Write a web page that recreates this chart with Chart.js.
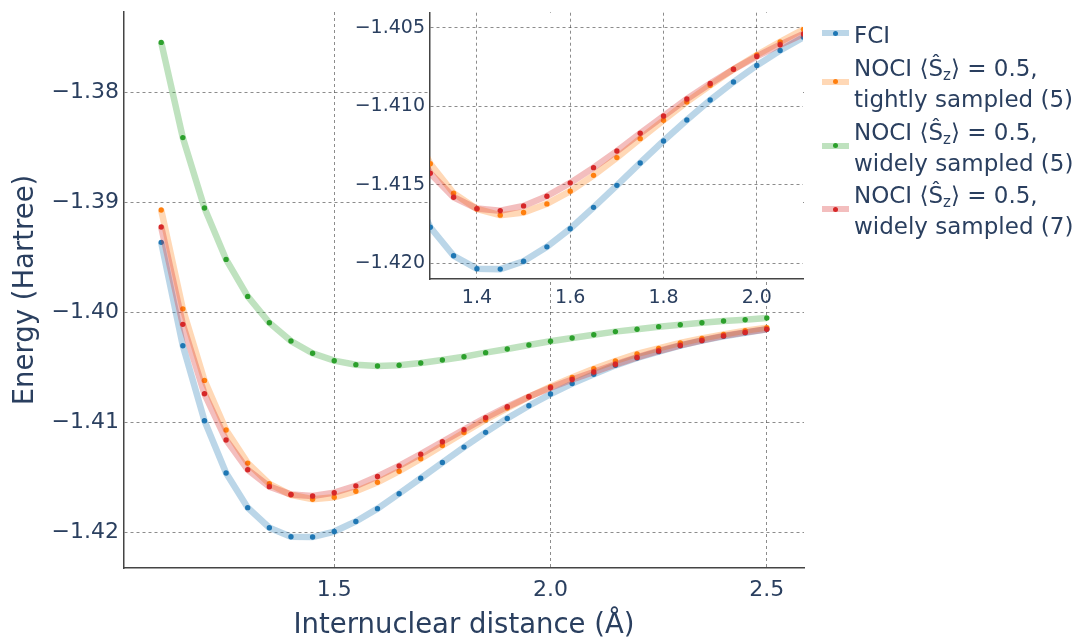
<!DOCTYPE html>
<html>
<head>
<meta charset="utf-8">
<script src="https://cdn.jsdelivr.net/npm/chart.js@4.4.1/dist/chart.umd.min.js"></script>
<style>
  body { margin: 0; background: #fff; }
  #wrap { position: relative; width: 1080px; height: 637px; font-family: 'DejaVu Sans', sans-serif; color: #2a3f5f; }
  #main { position: absolute; left: 0; top: 0; }
  #inset { position: absolute; left: 340px; top: 0; }
  .lg-sw { position: absolute; left: 822px; width: 27px; height: 6px; }
  .lg-dot { position: absolute; left: 11px; top: 0.5px; width: 5px; height: 5px; border-radius: 50%; }
  .lg-tx { position: absolute; left: 854px; font-size: 23px; line-height: 31px; white-space: nowrap; }
  .lg-tx sub { font-size: 15px; vertical-align: -4px; line-height: 0; }
</style>
</head>
<body>
<div id="wrap">
  <canvas id="main" width="1080" height="637"></canvas>
  <canvas id="inset" width="470" height="320"></canvas>
  <div id="legend"></div>
</div>
<script>
// ---- data ----
const distances = [1.10, 1.15, 1.20, 1.25, 1.30, 1.35, 1.40, 1.45, 1.50, 1.55,
                   1.60, 1.65, 1.70, 1.75, 1.80, 1.85, 1.90, 1.95, 2.00, 2.05,
                   2.10, 2.15, 2.20, 2.25, 2.30, 2.35, 2.40, 2.45, 2.50];

const fci = [-1.39362, -1.40301, -1.40982, -1.41457, -1.41772, -1.41954, -1.42036, -1.42039, -1.41989, -1.41897,
             -1.41781, -1.41645, -1.41505, -1.41362, -1.41222, -1.41088, -1.40961, -1.40846, -1.40740, -1.40645,
             -1.40560, -1.40479, -1.40412, -1.40355, -1.40301, -1.40255, -1.40216, -1.40183, -1.40152];

const tight5 = [-1.39068, -1.39966, -1.40616, -1.41066, -1.41367, -1.41555, -1.41655, -1.41695, -1.41678, -1.41623,
                -1.41542, -1.41441, -1.41328, -1.41207, -1.41090, -1.40973, -1.40867, -1.40765, -1.40674, -1.40590,
                -1.40510, -1.40440, -1.40376, -1.40325, -1.40276, -1.40234, -1.40198, -1.40164, -1.40137];

const wide5 = [-1.37546, -1.38411, -1.39050, -1.39517, -1.39853, -1.40092, -1.40258, -1.40370, -1.40437, -1.40473,
               -1.40485, -1.40479, -1.40458, -1.40431, -1.40401, -1.40364, -1.40331, -1.40295, -1.40261, -1.40231,
               -1.40201, -1.40173, -1.40152, -1.40128, -1.40110, -1.40092, -1.40077, -1.40065, -1.40049];

const wide7 = [-1.39223, -1.40107, -1.40737, -1.41157, -1.41428, -1.41581, -1.41653, -1.41666, -1.41636, -1.41574,
               -1.41489, -1.41392, -1.41286, -1.41173, -1.41063, -1.40954, -1.40855, -1.40765, -1.40683, -1.40608,
               -1.40540, -1.40470, -1.40407, -1.40349, -1.40298, -1.40253, -1.40212, -1.40180, -1.40152];

const seriesNames = ['FCI',
  'NOCI ⟨Ŝ<sub>z</sub>⟩ = 0.5,<br>tightly sampled (5)',
  'NOCI ⟨Ŝ<sub>z</sub>⟩ = 0.5,<br>widely sampled (5)',
  'NOCI ⟨Ŝ<sub>z</sub>⟩ = 0.5,<br>widely sampled (7)'];
const seriesRGB = ['31,119,180', '255,127,14', '44,160,44', '214,39,40'];

const mainXTicks = [1.5, 2.0, 2.5];
const mainYTicks = [-1.42, -1.41, -1.40, -1.39, -1.38];
const insetXTicks = [1.4, 1.6, 1.8, 2.0];
const insetYTicks = [-1.420, -1.415, -1.410, -1.405];

// ---- helpers ----
const textColor = '#2a3f5f';
const gridColor = 'rgba(0,0,0,0.45)';
Chart.defaults.font.family = "'DejaVu Sans', sans-serif";
Chart.defaults.color = textColor;

const allSeries = [fci, tight5, wide5, wide7];
const fmt = (v, dec) => (v < 0 ? '\u2212' : '') + Math.abs(v).toFixed(dec);

function makeSet(i, clip) {
  return {
    label: seriesNames[i],
    data: distances.map((x, k) => ({ x: x, y: allSeries[i][k] })),
    borderColor: 'rgba(' + seriesRGB[i] + ',0.3)',
    borderWidth: 6.5,
    pointRadius: 2.7,
    pointBorderWidth: 0,
    pointBackgroundColor: 'rgb(' + seriesRGB[i] + ')',
    tension: 0,
    order: 3 - i,
    clip: clip
  };
}

function axis(opts) {
  return {
    type: 'linear', min: opts.min, max: opts.max,
    afterBuildTicks: s => { s.ticks = opts.ticks.map(v => ({ value: v })); },
    afterFit: s => {
      if (opts.width) s.width = opts.width;
      if (opts.height) s.height = opts.height;
      s.paddingTop = 0; s.paddingBottom = 0; s.paddingLeft = 0; s.paddingRight = 0;
    },
    ticks: { font: { size: opts.font }, color: textColor, padding: opts.pad, maxRotation: 0, autoSkip: false,
             callback: v => fmt(Number(v), opts.dec) },
    grid: { color: gridColor, lineWidth: 1, drawTicks: false },
    border: { display: true, color: '#444', width: 1.5, dash: [3, 3] },
    title: opts.title || { display: false }
  };
}

// main axes
new Chart(document.getElementById('main'), {
  type: 'line',
  data: { datasets: [0, 1, 2, 3].map(i => makeSet(i)) },
  options: {
    responsive: false, animation: false, events: [],
    layout: { padding: { left: 0, right: 276, top: 12, bottom: 0 } },
    plugins: { legend: { display: false }, tooltip: { enabled: false } },
    scales: {
      x: axis({ min: 1.014, max: 2.586, ticks: mainXTicks, height: 69, font: 22, pad: 9, dec: 1,
        title: { display: true, text: 'Internuclear distance (Å)', font: { size: 27.5 }, color: textColor,
                 padding: { top: 0, bottom: -5 } } }),
      y: axis({ min: -1.4232, max: -1.3727, ticks: mainYTicks, width: 124, font: 22, pad: 5, dec: 2,
        title: { display: true, text: 'Energy (Hartree)', font: { size: 27.5 }, color: textColor,
                 padding: { top: 9, bottom: 0 } } })
    }
  }
});

// inset axes: white face behind the zoomed region
const insetFace = {
  id: 'insetFace',
  beforeDraw(c) {
    const a = c.chartArea, ctx = c.ctx;
    ctx.save();
    ctx.fillStyle = '#fff';
    ctx.fillRect(a.left, a.top, a.right - a.left, a.bottom - a.top);
    ctx.restore();
  }
};

new Chart(document.getElementById('inset'), {
  type: 'line',
  data: { datasets: [0, 1, 3].map(i => makeSet(i, 0)) },
  plugins: [insetFace],
  options: {
    responsive: false, animation: false, events: [],
    layout: { padding: { left: 0, right: 7, top: 12.7, bottom: 0 } },
    plugins: { legend: { display: false }, tooltip: { enabled: false } },
    scales: {
      x: axis({ min: 1.2994, max: 2.099, ticks: insetXTicks, height: 41, font: 19, pad: 8, dec: 1 }),
      y: axis({ min: -1.42102, max: -1.40404, ticks: insetYTicks, width: 90, font: 19, pad: 5, dec: 3 })
    }
  }
});

// legend (outside, right)
const legendSwatchY = [33.3, 81.7, 145.7, 209.3];
const legendTextTop = [35, 68, 132, 195];
const lg = document.getElementById('legend');
seriesNames.forEach((name, i) => {
  const sw = document.createElement('div');
  sw.className = 'lg-sw';
  sw.style.top = (legendSwatchY[i] - 3) + 'px';
  sw.style.background = 'rgba(' + seriesRGB[i] + ',0.3)';
  sw.innerHTML = '<div class="lg-dot" style="background:rgb(' + seriesRGB[i] + ')"></div>';
  lg.appendChild(sw);
  const tx = document.createElement('div');
  tx.className = 'lg-tx';
  tx.style.top = (legendTextTop[i] - 15.5) + 'px';
  tx.innerHTML = name;
  lg.appendChild(tx);
});
</script>
</body>
</html>
